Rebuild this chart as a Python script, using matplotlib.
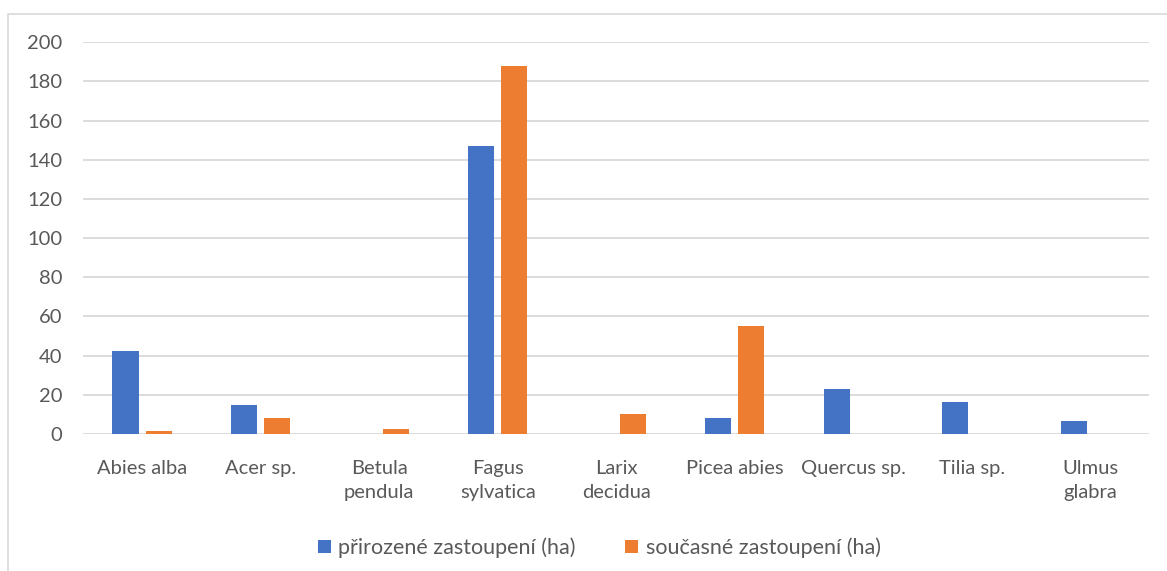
import matplotlib.pyplot as plt
import numpy as np
from matplotlib.patches import Rectangle

druhy = ['Abies alba', 'Acer sp.', 'Betula\npendula', 'Fagus\nsylvatica', 'Larix\ndecidua',
         'Picea abies', 'Quercus sp.', 'Tilia sp.', 'Ulmus\nglabra']
prirozene = [42.5, 14.8, 0, 147, 0, 8, 23, 16.2, 6.6]
soucasne = [1.7, 8, 2.4, 188, 10, 55, 0, 0, 0]
yticks = [0, 20, 40, 60, 80, 100, 120, 140, 160, 180, 200]

plt.rcParams['font.family'] = ['Lato', 'DejaVu Sans']
seda = '#595959'

fig = plt.figure(figsize=(11.67, 5.71), dpi=100)
ax = fig.add_axes([0.071, 0.24, 0.914, 0.686])

x = np.arange(len(druhy))
w = 0.22
ax.bar(x - 0.14, prirozene, w, color='#4472c4', label='přirozené zastoupení (ha)', zorder=3)
ax.bar(x + 0.14, soucasne, w, color='#ed7d31', label='současné zastoupení (ha)', zorder=3)

ax.set_xlim(-0.5, len(druhy) - 0.5)
ax.set_ylim(0, 200)
ax.set_yticks(yticks)
ax.set_xticks(x)
ax.set_xticklabels(druhy, linespacing=1.45)
ax.tick_params(axis='both', length=0, labelsize=14.5, colors=seda)
ax.tick_params(axis='x', pad=19)
ax.tick_params(axis='y', pad=15)
ax.grid(axis='y', color='#d9d9d9', linewidth=1.3, zorder=0)
for s in ax.spines.values():
    s.set_visible(False)

leg = ax.legend(loc='upper center', bbox_to_anchor=(0.484, -0.215), ncol=2, frameon=False,
                fontsize=15.5, handlelength=0.6, handleheight=0.6, columnspacing=2.3,
                handletextpad=0.35)
for t in leg.get_texts():
    t.set_color(seda)

# ramecek kolem celeho grafu
fig.patches.append(Rectangle((0.007, -0.01), 1.0, 0.985, transform=fig.transFigure,
                             fill=False, edgecolor='#d9d9d9', linewidth=1.2))

plt.savefig('out.png', dpi=100)
